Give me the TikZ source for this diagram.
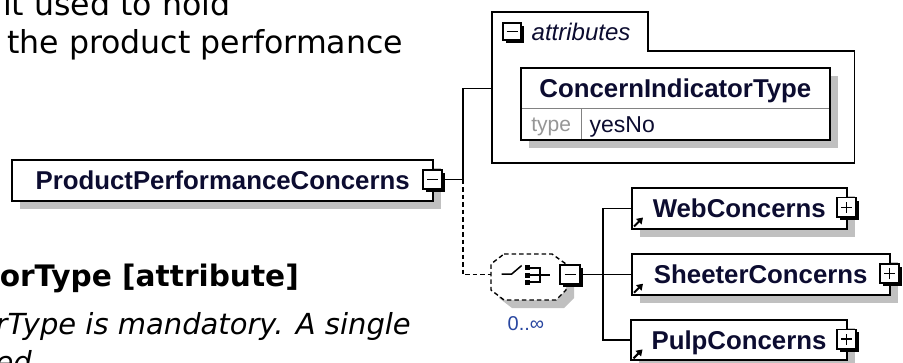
\documentclass[tikz,border=0pt]{standalone}
\usepackage{fontspec}
\setmainfont{Liberation Sans}
\newfontfamily\docfont{DejaVu Sans}
\usetikzlibrary{shadows,arrows.meta}
\definecolor{nodetext}{RGB}{12,12,48}
\definecolor{shadowgrey}{RGB}{192,192,192}
\definecolor{occur}{RGB}{40,70,160}
\definecolor{typegrey}{RGB}{150,150,150}
\definecolor{divgrey}{RGB}{130,130,130}
\tikzset{
  doctext/.style={inner sep=0, text=black, font=\docfont\fontsize{31.6}{36}\selectfont},
  dochead/.style={inner sep=0, text=black, font=\docfont\bfseries\fontsize{29.6}{34}\selectfont},
  docital/.style={inner sep=0, text=black, font=\docfont\itshape\fontsize{29}{34}\selectfont},
  elem/.style={draw, line width=2, fill=white, minimum height=40.4, inner sep=0,
    text=nodetext, font=\bfseries\fontsize{25.8}{30}\selectfont, text height=18.5, text depth=0,
    drop shadow={shadow xshift=8pt, shadow yshift=-8pt, fill=shadowgrey, opacity=1}},
  togglebox/.style={draw, line width=1.6, fill=white, minimum size=#1, inner sep=0,
    drop shadow={shadow xshift=3pt, shadow yshift=-3pt, fill=black, opacity=1}},
  minusbox/.style={togglebox=#1, path picture={
    \draw[line width=1.5] ([xshift=-5.5pt]path picture bounding box.center) -- ([xshift=5.5pt]path picture bounding box.center);}},
  plusbox/.style={togglebox=#1, path picture={
    \draw[line width=1.5] ([xshift=-5.5pt]path picture bounding box.center) -- ([xshift=5.5pt]path picture bounding box.center);
    \draw[line width=1.5] ([yshift=-5.5pt]path picture bounding box.center) -- ([yshift=5.5pt]path picture bounding box.center);}},
  conn/.style={line width=1.6, black},
  optconn/.style={conn, dash pattern=on 4.5pt off 3pt},
  refarrow/.style={line width=2, -{Triangle[length=6pt,width=7.5pt]}},
}
\begin{document}
\begin{tikzpicture}[x=1pt,y=-1pt]
\useasboundingbox[fill=white] (0,0) rectangle (903,362);

% ---- documentation text (clipped by page) ----
\node[doctext, anchor=base west] (t1) at (3,15) {it used to hold};
\node[doctext, anchor=base west] (t2) at (7,53.3) {the product performance};
\node[dochead, anchor=base east] (t3) at (299,286) {orType [attribute]};
\node[docital, anchor=base east] (t4) at (411,334) {rType is mandatory. A single};
\node[docital, anchor=base east] (t5) at (32,372) {red};

% ---- attributes container ----
\draw[line width=1.6] (491.7,162.7) -- (491.7,12) -- (647.7,12) -- (647.7,50.7)
  -- (854.3,50.7) -- (854.3,162.7) -- cycle;
\node[minusbox=17.5] (attm) at (512,31.5) {};
\node[anchor=base west, inner sep=0, text=nodetext, font=\itshape\fontsize{24}{28}\selectfont] (attl) at (531.5,40) {attributes};
\coordinate (attrw) at (491.7,88.3);

% ConcernIndicatorType attribute box
\fill[shadowgrey] (528.7,76.3) rectangle (838,148);
\node[fill=white, minimum width=309.3, minimum height=40, inner sep=0, text=nodetext,
  font=\bfseries\fontsize{25.8}{30}\selectfont, text height=18.5, text depth=0] (cit) at (675.35,88.3) {ConcernIndicatorType};
\node[fill=white, minimum width=61, minimum height=31.7, inner sep=0, text=typegrey,
  font=\fontsize{21}{24}\selectfont, text height=15, text depth=0] (citt) at (551.2,124.15) {type};
\node[fill=white, minimum height=31.7, inner xsep=8, inner ysep=0, text width=232.3, align=left, text=nodetext,
  font=\fontsize{23}{26}\selectfont, text height=16, text depth=0] (citv) at (705.85,124.15) {yesNo};
\draw[divgrey, line width=1.1] (citt.north west) -- (citv.north east);
\draw[divgrey, line width=1.1] (citt.north east) -- (citt.south east);
\draw[line width=2] (cit.north west) rectangle (citv.south east);

% ---- root element ----
\node[elem, minimum width=421.3] (ppc) at (222.65,180.3) {ProductPerformanceConcerns};
\node[minusbox=19.5] (ppcm) at (432.5,179.5) {};
\coordinate (tr1) at (462.7,179.5);
\coordinate (seqw) at (491,274.5);
\draw[conn] (ppcm.east) -- (tr1) |- (attrw);
\draw[optconn] (tr1) |- (seqw);

% ---- sequence compositor ----
\fill[shadowgrey] (512,262) -- (560,262) -- (574,272) -- (574,298) -- (564,308) -- (512,308) -- (499,298) -- (499,272) -- cycle;
\draw[line width=1.4, dash pattern=on 4.5pt off 3pt, fill=white]
  (504,254) -- (552,254) -- (566,264) -- (566,290) -- (556,300) -- (504,300) -- (491,290) -- (491,264) -- cycle;
\draw[line width=1.5] (501.7,274) -- (511.7,274) -- (521.7,265.5);
\fill (524.5,265) rectangle (529.5,270);
\fill (524.5,272.5) rectangle (529.5,277.5);
\fill (524.5,280) rectangle (529.5,285);
\draw[line width=1.5] (529.5,268) -- (540,268) -- (540,282) -- (529.5,282);
\draw[line width=1.5] (529.5,275) -- (550,275);
\node[minusbox=19.5] (seqm) at (570,274.5) {};
\node[anchor=base west, inner sep=0, text=occur, font=\fontsize{20}{24}\selectfont] (occ) at (507.5,330) {0..∞};

% ---- children ----
\node[elem, minimum width=215.5] (web) at (739.25,208.3) {WebConcerns};
\node[elem, minimum width=258.5] (sheet) at (760.75,274.5) {SheeterConcerns};
\node[elem, minimum width=216] (pulp) at (739,340.2) {PulpConcerns};
\node[plusbox=19.5] (webp) at (846.5,207.3) {};
\node[plusbox=19.5] (sheetp) at (889.5,273.5) {};
\node[plusbox=19.5] (pulpp) at (846.5,339.2) {};

\coordinate (tr2) at (602.7,274.5);
\draw[conn] (seqm.east) -- (tr2);
\draw[conn] (tr2) |- (web.west);
\draw[conn] (tr2) -- (sheet.west);
\draw[conn] (tr2) |- (pulp.west);

% reference arrows
\foreach \n in {web,sheet,pulp}{
  \draw[refarrow] ([xshift=3.5pt,yshift=3pt]\n.south west) -- ([xshift=12.5pt,yshift=12pt]\n.south west);
}
\end{tikzpicture}
\end{document}
